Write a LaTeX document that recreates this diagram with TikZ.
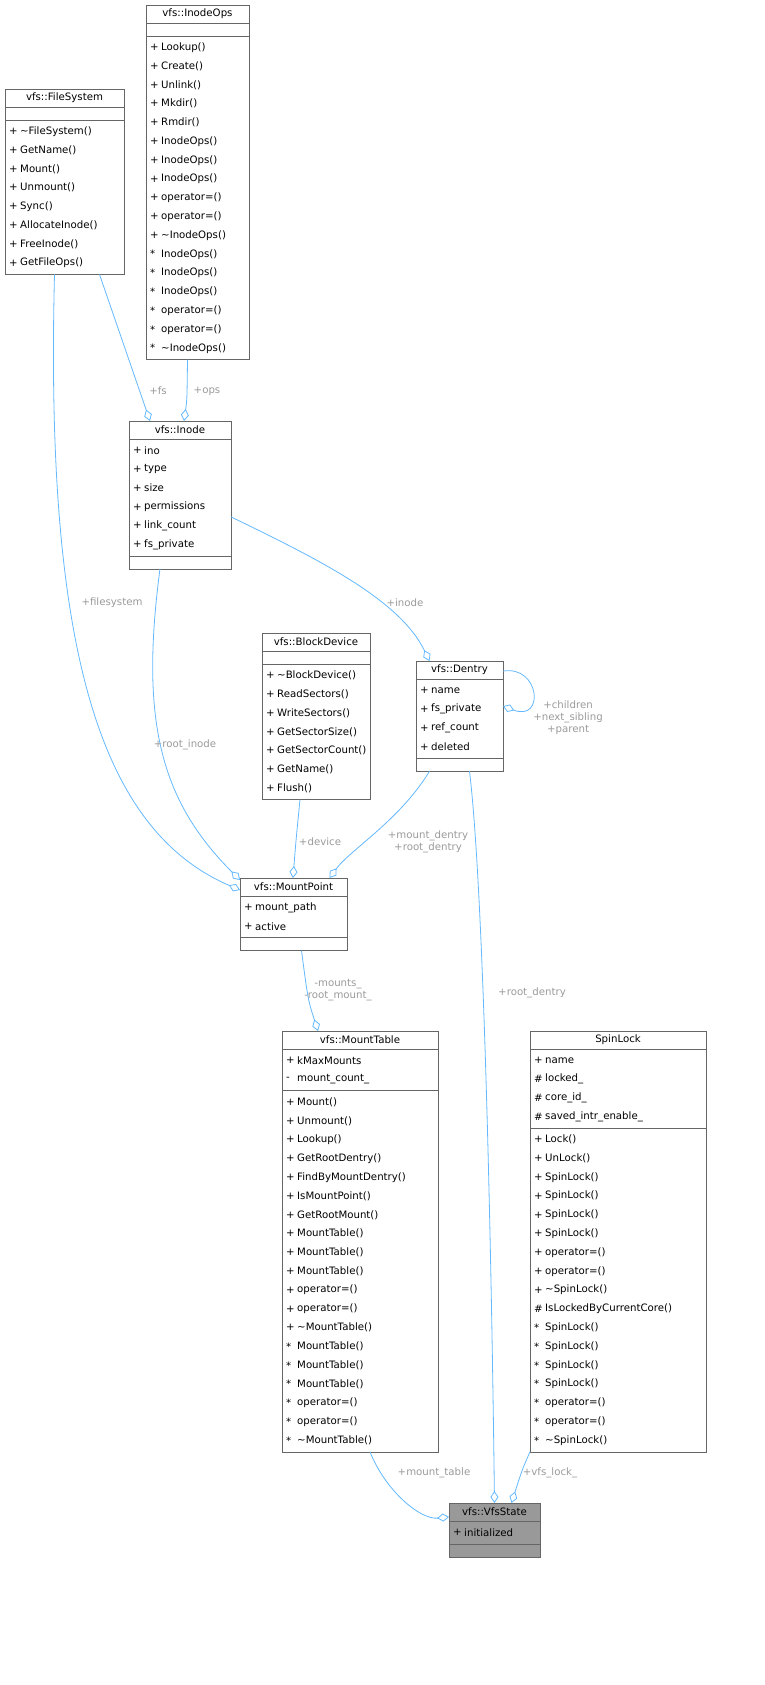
\documentclass[tikz,border=0pt]{standalone}
\usepackage{fontspec}
\setmainfont{DejaVu Sans}
\usetikzlibrary{arrows.meta}
\definecolor{edgec}{HTML}{63B8FF}
\definecolor{labc}{HTML}{9A9A9A}
\definecolor{bord}{HTML}{666666}
\def\bfill{white}
\newcommand\umlclass[9]{%
 \pgfmathsetmacro\ya{#4+18}%
 \pgfmathsetmacro\yb{\ya+(#7==0?13:#7*18.8+4)}%
 \pgfmathsetmacro\yc{\yb+(#9==0?13:#9*18.8+4)}%
 \node[draw=bord,fill=\bfill,inner sep=0,outer sep=0,anchor=north west,minimum width={#3pt-#2pt},minimum height={\yc pt-#4pt}] (#1) at (#2,#4) {};
 \draw[bord] (#2,\ya) -- (#3,\ya) (#2,\yb) -- (#3,\yb);
 \node[txt] at ({(#2+#3)/2},{#4+9}) {#5};
 \ifnum#7>0
 \foreach[count=\i] \s/\t in {#6} {\node[txt,anchor=west] at ({#2+4},{\ya+2+(\i-0.5)*18.8}) {\s};
   \node[txt,anchor=west] at ({#2+15},{\ya+2+(\i-0.5)*18.8}) {\t};}
 \fi
 \ifnum#9>0
 \foreach[count=\i] \s/\t in {#8} {\node[txt,anchor=west] at ({#2+4},{\yb+2+(\i-0.5)*18.8}) {\s};
   \node[txt,anchor=west] at ({#2+15},{\yb+2+(\i-0.5)*18.8}) {\t};}
 \fi
}
\begin{document}
\begin{tikzpicture}[x=1pt,y=-1pt,
 txt/.style={inner sep=0,font=\fontsize{10.2}{12}\selectfont},
 edge/.style={draw=edgec,line width=0.8pt,-{Diamond[open,length=12pt,width=8pt]}},
 lab/.style={txt,text=labc,align=center}]
\useasboundingbox (0,0) rectangle (764,1685);
\umlclass{ops}{146}{249}{5}{vfs::InodeOps}{}{0}{+/Lookup(),+/Create(),+/Unlink(),+/Mkdir(),+/Rmdir(),+/InodeOps(),+/InodeOps(),+/InodeOps(),+/operator=(),+/operator=(),+/\textasciitilde InodeOps(),*/InodeOps(),*/InodeOps(),*/InodeOps(),*/operator=(),*/operator=(),*/\textasciitilde InodeOps()}{17}
\umlclass{fs}{5}{124}{89}{vfs::FileSystem}{}{0}{+/\textasciitilde FileSystem(),+/GetName(),+/Mount(),+/Unmount(),+/Sync(),+/AllocateInode(),+/FreeInode(),+/GetFileOps()}{8}
\umlclass{inode}{129}{231}{421}{vfs::Inode}{+/ino,+/type,+/size,+/permissions,+/link\_count,+/fs\_private}{6}{}{0}
\umlclass{bd}{262}{370}{633}{vfs::BlockDevice}{}{0}{+/\textasciitilde BlockDevice(),+/ReadSectors(),+/WriteSectors(),+/GetSectorSize(),+/GetSectorCount(),+/GetName(),+/Flush()}{7}
\umlclass{dentry}{416}{503}{661}{vfs::Dentry}{+/name,+/fs\_private,+/ref\_count,+/deleted}{4}{}{0}
\umlclass{mp}{240}{347}{878}{vfs::MountPoint}{+/mount\_path,+/active}{2}{}{0}
\umlclass{mt}{282}{438}{1031}{vfs::MountTable}{+/kMaxMounts,-/mount\_count\_}{2}{+/Mount(),+/Unmount(),+/Lookup(),+/GetRootDentry(),+/FindByMountDentry(),+/IsMountPoint(),+/GetRootMount(),+/MountTable(),+/MountTable(),+/MountTable(),+/operator=(),+/operator=(),+/\textasciitilde MountTable(),*/MountTable(),*/MountTable(),*/MountTable(),*/operator=(),*/operator=(),*/\textasciitilde MountTable()}{19}
\umlclass{sl}{530}{706}{1031}{SpinLock}{+/name,\#/locked\_,\#/core\_id\_,\#/saved\_intr\_enable\_}{4}{+/Lock(),+/UnLock(),+/SpinLock(),+/SpinLock(),+/SpinLock(),+/SpinLock(),+/operator=(),+/operator=(),+/\textasciitilde SpinLock(),\#/IsLockedByCurrentCore(),*/SpinLock(),*/SpinLock(),*/SpinLock(),*/SpinLock(),*/operator=(),*/operator=(),*/\textasciitilde SpinLock()}{17}
\def\bfill{black!40}
\umlclass{vs}{449}{540}{1503}{vfs::VfsState}{+/initialized}{1}{}{0}
% edges
\draw[edge] ([xshift=35]fs.south) -- ([xshift=-30]inode.north);
\node[lab] at (158,391) {+fs};
\draw[edge] ([xshift=-10]ops.south) .. controls (187,400) .. ([xshift=4]inode.north);
\node[lab] at (207,391) {+ops};
\draw[edge] ([xshift=-10]fs.south) .. controls (45,650) and (100,830) .. ([yshift=-12]mp.north west);
\node[lab] at (112,603) {+filesystem};
\draw[edge] ([xshift=-20]inode.south) .. controls (140,720) and (160,800) .. ([yshift=-2]mp.north west);
\node[lab] at (185,745) {+root\_inode};
\draw[edge] ([yshift=-22]inode.east) .. controls (320,560) and (400,600) .. ([xshift=-30]dentry.north);
\node[lab] at (405,603) {+inode};
\draw[edge] ([yshift=45]dentry.east) .. controls (540,665) and (545,722) .. ([yshift=10]dentry.east);
\node[lab] at (568,718) {+children\\+next\_sibling\\+parent};
\draw[edge] ([xshift=-16]bd.south) .. controls (296,840) .. ([xshift=-0.5]mp.north);
\node[lab] at (320,842) {+device};
\draw[edge] ([xshift=-30]dentry.south) .. controls (400,820) and (350,850) .. ([xshift=36]mp.north);
\node[lab] at (428,842) {+mount\_dentry\\+root\_dentry};
\draw[edge] ([xshift=8]mp.south) .. controls (308,1000) .. ([xshift=-42]mt.north);
\node[lab] at (338,990) {-mounts\_\\-root\_mount\_};
\draw[edge] ([xshift=10]dentry.south) .. controls (485,900) and (492,1300) .. (vs.north);
\node[lab] at (532,993) {+root\_dentry};
\draw[edge] ([xshift=10]mt.south) .. controls (385,1490) and (420,1520) .. ([yshift=13]vs.west);
\node[lab] at (434,1473) {+mount\_table};
\draw[edge] ([xshift=-88]sl.south) .. controls (522,1470) .. ([xshift=17]vs.north);
\node[lab] at (550,1473) {+vfs\_lock\_};
\end{tikzpicture}
\end{document}
